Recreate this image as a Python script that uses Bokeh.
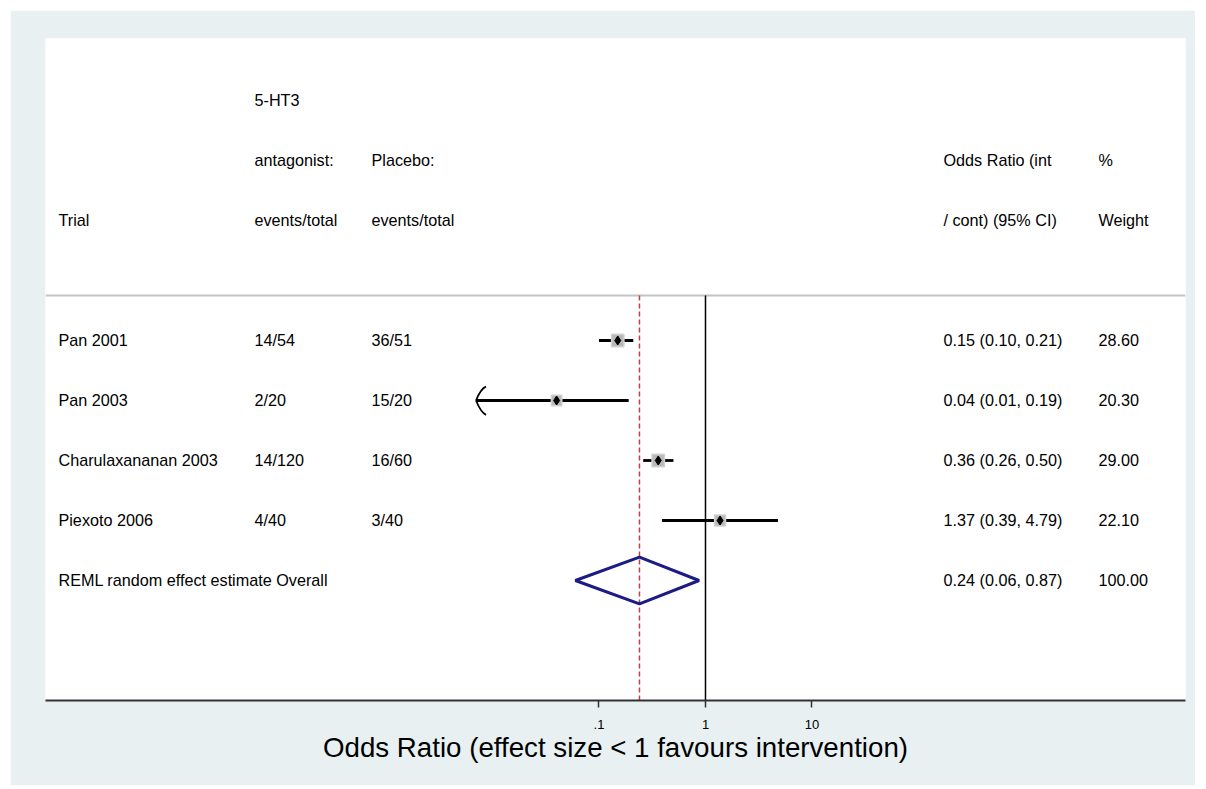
from bokeh.plotting import figure
from bokeh.models import Range1d, FixedTicker, ColumnDataSource
from bokeh.core.properties import value
from bokeh.embed import file_html
from bokeh.resources import INLINE

# ---- data ----
trials = ["Pan 2001", "Pan 2003", "Charulaxananan 2003", "Piexoto 2006"]
treat_events = ["14/54", "2/20", "14/120", "4/40"]
placebo_events = ["36/51", "15/20", "16/60", "3/40"]
odds_ratio = [0.15, 0.04, 0.36, 1.37]
ci_low = [0.10, 0.01, 0.26, 0.39]
ci_high = [0.21, 0.19, 0.50, 4.79]
weights = [28.60, 20.30, 29.00, 22.10]
overall_label = "REML random effect estimate Overall"
overall_or = 0.24
overall_low = 0.06
overall_high = 0.87
arrow_tip = 0.007          # where the clipped CI of Pan 2003 ends (arrow)
tick_values = [0.1, 1, 10]
tick_labels = [".1", "1", "10"]

FONT = "Liberation Sans"
FS = "16.2px"

rows = list(range(len(trials)))
overall_row = len(trials)

X0, X1 = 10 ** -6.197, 10 ** 4.507

p = figure(width=1185, height=775, x_axis_type="log", y_axis_location=None,
           x_range=Range1d(X0, X1), y_range=Range1d(6.0, -5.033),
           output_backend="svg", toolbar_location=None,
           min_border_left=35, min_border_right=10, min_border_top=28, min_border_bottom=85)
p.margin = (10, 0, 0, 10)
p.border_fill_color = "#e8f0f2"
p.background_fill_color = "white"
p.outline_line_color = None
p.xgrid.visible = False
p.ygrid.visible = False

# x axis
ax = p.xaxis[0]
ax.ticker = FixedTicker(ticks=tick_values)
ax.major_label_overrides = {t: l for t, l in zip(tick_values, tick_labels)}
ax.minor_tick_line_color = None
ax.major_tick_in = 0
ax.major_tick_out = 7
ax.major_tick_line_color = "#333333"
ax.major_tick_line_width = 1.5
ax.axis_line_color = "#333333"
ax.axis_line_width = 2
ax.major_label_text_font = FONT
ax.major_label_text_font_size = "13px"
ax.major_label_text_color = "black"
ax.major_label_standoff = 12
ax.axis_label = "Odds Ratio (effect size < 1 favours intervention)"
ax.axis_label_text_font = FONT
ax.axis_label_text_font_size = "27.7px"
ax.axis_label_text_font_style = "normal"
ax.axis_label_text_color = "black"
ax.axis_label_standoff = 0

# header separator line
p.line(x=[X0, X1], y=[-0.75, -0.75], line_color="#c4c4c4", line_width=2)

# null line and overall estimate line
p.segment(x0=[1], y0=[-0.75], x1=[1], y1=[6.0], line_color="black", line_width=1.5)
p.segment(x0=[overall_or], y0=[-0.75], x1=[overall_or], y1=[6.0], line_color="#bb4048",
          line_width=1.5, line_dash="5 3")

# CI lines (clip Pan 2003 lower end with arrow)
drawn_low = [arrow_tip if i == 1 else lo for i, lo in enumerate(ci_low)]
src = ColumnDataSource(dict(y=rows, orr=odds_ratio, lo=drawn_low, hi=ci_high,
                            size=[(w ** 0.5) * 2.3 for w in weights]))
p.segment(x0="lo", y0="y", x1="hi", y1="y", source=src, line_color="black", line_width=2.8)
p.scatter(x="orr", y="y", size="size", marker="square", source=src,
          fill_color="#b8b8b8", line_color="#d0d0d0", line_width=1.5)
p.scatter(x="orr", y="y", size=9, marker="diamond", source=src,
          fill_color="black", line_color="black")

# arrow head for clipped CI (Pan 2003)
dx = 10 ** (10 / 106.5)
c0 = 10 ** (2 / 106.5)
c1 = 10 ** (5 / 106.5)
p.bezier(x0=[arrow_tip, arrow_tip], y0=[1, 1],
         x1=[arrow_tip * dx, arrow_tip * dx], y1=[0.77, 1.24],
         cx0=[arrow_tip * c0, arrow_tip * c0], cy0=[0.92, 1.08],
         cx1=[arrow_tip * c1, arrow_tip * c1], cy1=[0.8, 1.2],
         line_color="black", line_width=1.8)

# overall diamond
h = 0.39
p.patch(x=[overall_low, overall_or, overall_high, overall_or, overall_low],
        y=[overall_row, overall_row - h, overall_row, overall_row + h, overall_row],
        fill_color=None, line_color="#1c1c86", line_width=3)

# text columns (log-space x positions)
def px(xpix):
    return 10 ** ((xpix - 705) / 106.5)

def col(xpix, ys, texts):
    p.text(x=[px(xpix)] * len(ys), y=ys, text=texts, text_font=value(FONT),
           text_font_size=FS, text_baseline="middle", text_align="left", text_color="black")

# headers
col(58, [-2], ["Trial"])
col(254, [-4, -3, -2], ["5-HT3", "antagonist:", "events/total"])
col(371, [-3, -2], ["Placebo:", "events/total"])
col(943, [-3, -2], ["Odds Ratio (int", "/ cont) (95% CI)"])
col(1098, [-3, -2], ["%", "Weight"])

# body
or_txt = [f"{o:.2f} ({l:.2f}, {u:.2f})" for o, l, u in zip(odds_ratio, ci_low, ci_high)]
col(58, rows + [overall_row], trials + [overall_label])
col(254, rows, treat_events)
col(371, rows, placebo_events)
col(943, rows + [overall_row], or_txt + [f"{overall_or:.2f} ({overall_low:.2f}, {overall_high:.2f})"])
col(1098, rows + [overall_row], [f"{w:.2f}" for w in weights] + ["100.00"])

open("out.html", "w").write(file_html(p, INLINE))
